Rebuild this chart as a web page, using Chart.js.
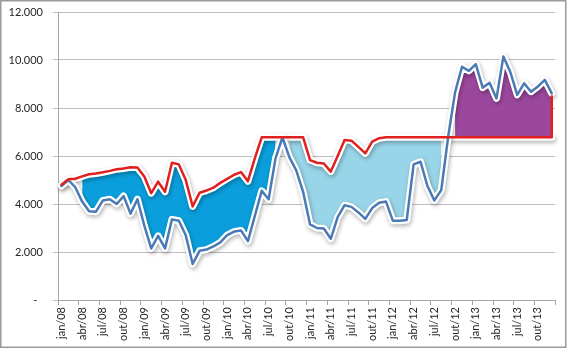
<!DOCTYPE html>
<html>
<head>
<meta charset="utf-8">
<script src="https://cdn.jsdelivr.net/npm/chart.js@4/dist/chart.umd.min.js"></script>
<style>
  body { margin: 0; background: #fff; }
  canvas { display: block; }
</style>
</head>
<body>
<canvas id="grafico" width="567" height="349"></canvas>
<script>
const meses = ['jan', 'fev', 'mar', 'abr', 'mai', 'jun', 'jul', 'ago', 'set', 'out', 'nov', 'dez'];
const anos = ['08', '09', '10', '11', '12', '13'];
const categorias = [];
anos.forEach(a => meses.forEach(m => categorias.push(m + '/' + a)));

// linha vermelha (limite)
const limite = [
  4800, 5030, 5050, 5150, 5240, 5270, 5320, 5380, 5450, 5480, 5530, 5520,
  5150, 4450, 4930, 4510, 5720, 5650, 5000, 3900, 4470, 4560, 4680, 4880,
  5050, 5220, 5330, 4950, 5900, 6780, 6780, 6780, 6780, 6780, 6780, 6780,
  5830, 5720, 5690, 5350, 6000, 6670, 6640, 6380, 6110, 6600, 6740, 6780,
  6780, 6780, 6780, 6780, 6780, 6780, 6780, 6780, 6780, 6780, 6780, 6780,
  6780, 6780, 6780, 6780, 6780, 6780, 6780, 6780, 6780, 6780, 6780, 6780
];

// linha azul (realizado)
const realizado = [
  4750, 5000, 4700, 4100, 3700, 3680, 4150, 4200, 4000, 4330, 3600, 4200,
  3100, 2150, 2670, 2150, 3360, 3300, 2700, 1500, 2050, 2100, 2230, 2400,
  2700, 2850, 2900, 2450, 3500, 4550, 4200, 5900, 6780, 5950, 5400, 4500,
  3150, 3000, 2980, 2550, 3450, 3950, 3880, 3650, 3380, 3830, 4050, 4100,
  3300, 3300, 3330, 5650, 5760, 4750, 4150, 4580, 6800, 8650, 9720, 9550,
  9830, 8850, 9050, 8400, 10150, 9500, 8550, 9030, 8680, 8900, 9170, 8610
];

const rotulosY = ['-  ', '2.000', '4.000', '6.000', '8.000', '10.000', '12.000'];

// trechos preenchidos (indices de inicio e fim)
const faixaEscura = [3, 31];
const faixaClara = [33, 55];
const faixaRoxa = [57, 71];

function trecho(faixa) {
  return limite.map((v, i) => (i >= faixa[0] && i <= faixa[1]) ? v : null);
}

Chart.defaults.font.family = 'Lato';
Chart.defaults.font.size = 11;
Chart.defaults.color = '#262626';

const sombra = {
  id: 'sombra',
  beforeDatasetDraw(chart, args) {
    if (!args.meta._dataset.sombra) return;
    const ctx = chart.ctx;
    ctx.save();
    ctx.shadowColor = 'rgba(0, 0, 0, 0.3)';
    ctx.shadowBlur = 4;
    ctx.shadowOffsetX = 1;
    ctx.shadowOffsetY = 2;
  },
  afterDatasetDraw(chart, args) {
    if (!args.meta._dataset.sombra) return;
    chart.ctx.restore();
  }
};

const fechamento = {
  id: 'fechamento',
  afterDatasetsDraw(chart) {
    const pv = chart.getDatasetMeta(0).data;
    const pa = chart.getDatasetMeta(1).data;
    const a = pv[pv.length - 1];
    const b = pa[pa.length - 1];
    const ctx = chart.ctx;
    ctx.save();
    ctx.strokeStyle = '#E0201F';
    ctx.lineWidth = 2.5;
    ctx.beginPath();
    ctx.moveTo(a.x, a.y);
    ctx.lineTo(a.x, b.y + 2);
    ctx.stroke();
    ctx.restore();
  }
};

const moldura = {
  id: 'moldura',
  afterDraw(chart) {
    const ctx = chart.ctx;
    ctx.save();
    ctx.strokeStyle = '#9a9a9a';
    ctx.lineWidth = 1.5;
    ctx.strokeRect(0.75, 0.75, chart.width - 2, chart.height - 2.5);
    ctx.restore();
  }
};

const ctx = document.getElementById('grafico').getContext('2d');

new Chart(ctx, {
  type: 'line',
  data: {
    labels: categorias,
    datasets: [
      {
        data: limite,
        borderColor: '#E0201F',
        borderWidth: 2.5,
        pointRadius: 0,
        fill: false,
        order: 1
      },
      {
        data: realizado,
        borderColor: '#4A7AB6',
        borderWidth: 2.5,
        pointRadius: 0,
        fill: false,
        order: 2
      },
      {
        data: limite,
        borderColor: '#ffffff',
        borderWidth: 7,
        pointRadius: 0,
        fill: false,
        sombra: true,
        order: 5
      },
      {
        data: realizado,
        borderColor: '#ffffff',
        borderWidth: 7,
        pointRadius: 0,
        fill: false,
        sombra: true,
        order: 3
      },
      {
        data: trecho(faixaEscura),
        borderWidth: 0,
        pointRadius: 0,
        backgroundColor: '#0A9FDC',
        fill: { target: 1 },
        order: 7
      },
      {
        data: trecho(faixaClara),
        borderWidth: 0,
        pointRadius: 0,
        backgroundColor: '#98D5E8',
        fill: { target: 1 },
        order: 6
      },
      {
        data: trecho(faixaRoxa),
        borderWidth: 0,
        pointRadius: 0,
        backgroundColor: '#9C479E',
        fill: { target: 1 },
        order: 4
      }
    ]
  },
  options: {
    responsive: false,
    animation: false,
    layout: {
      padding: { top: 12, right: 9, left: 0, bottom: 0 }
    },
    elements: {
      line: { tension: 0, borderJoinStyle: 'round', borderCapStyle: 'round' }
    },
    plugins: {
      legend: { display: false },
      tooltip: { enabled: false },
      filler: { drawTime: 'beforeDatasetDraw' }
    },
    scales: {
      x: {
        offset: true,
        afterFit(scale) { scale.height = 49; },
        grid: {
          offset: true,
          drawOnChartArea: false,
          tickLength: 5,
          color: c => (c.index === undefined || c.index % 3 === 0) ? '#A6A6A6' : 'rgba(0,0,0,0)'
        },
        border: { display: true, color: '#A6A6A6' },
        ticks: {
          autoSkip: false,
          minRotation: 90,
          maxRotation: 90,
          padding: 2,
          callback: (v, i) => i % 3 === 0 ? categorias[i] : ''
        }
      },
      y: {
        min: 0,
        max: 12000,
        afterFit(scale) {
          scale.width = 58;
          scale.paddingTop = 6;
          scale.paddingBottom = 0;
        },
        grid: {
          color: '#BEBEBE',
          tickLength: 5
        },
        border: { display: true, color: '#A6A6A6' },
        ticks: {
          stepSize: 2000,
          padding: 10,
          callback: (v, i) => rotulosY[i]
        }
      }
    }
  },
  plugins: [sombra, fechamento, moldura]
});
</script>
</body>
</html>
